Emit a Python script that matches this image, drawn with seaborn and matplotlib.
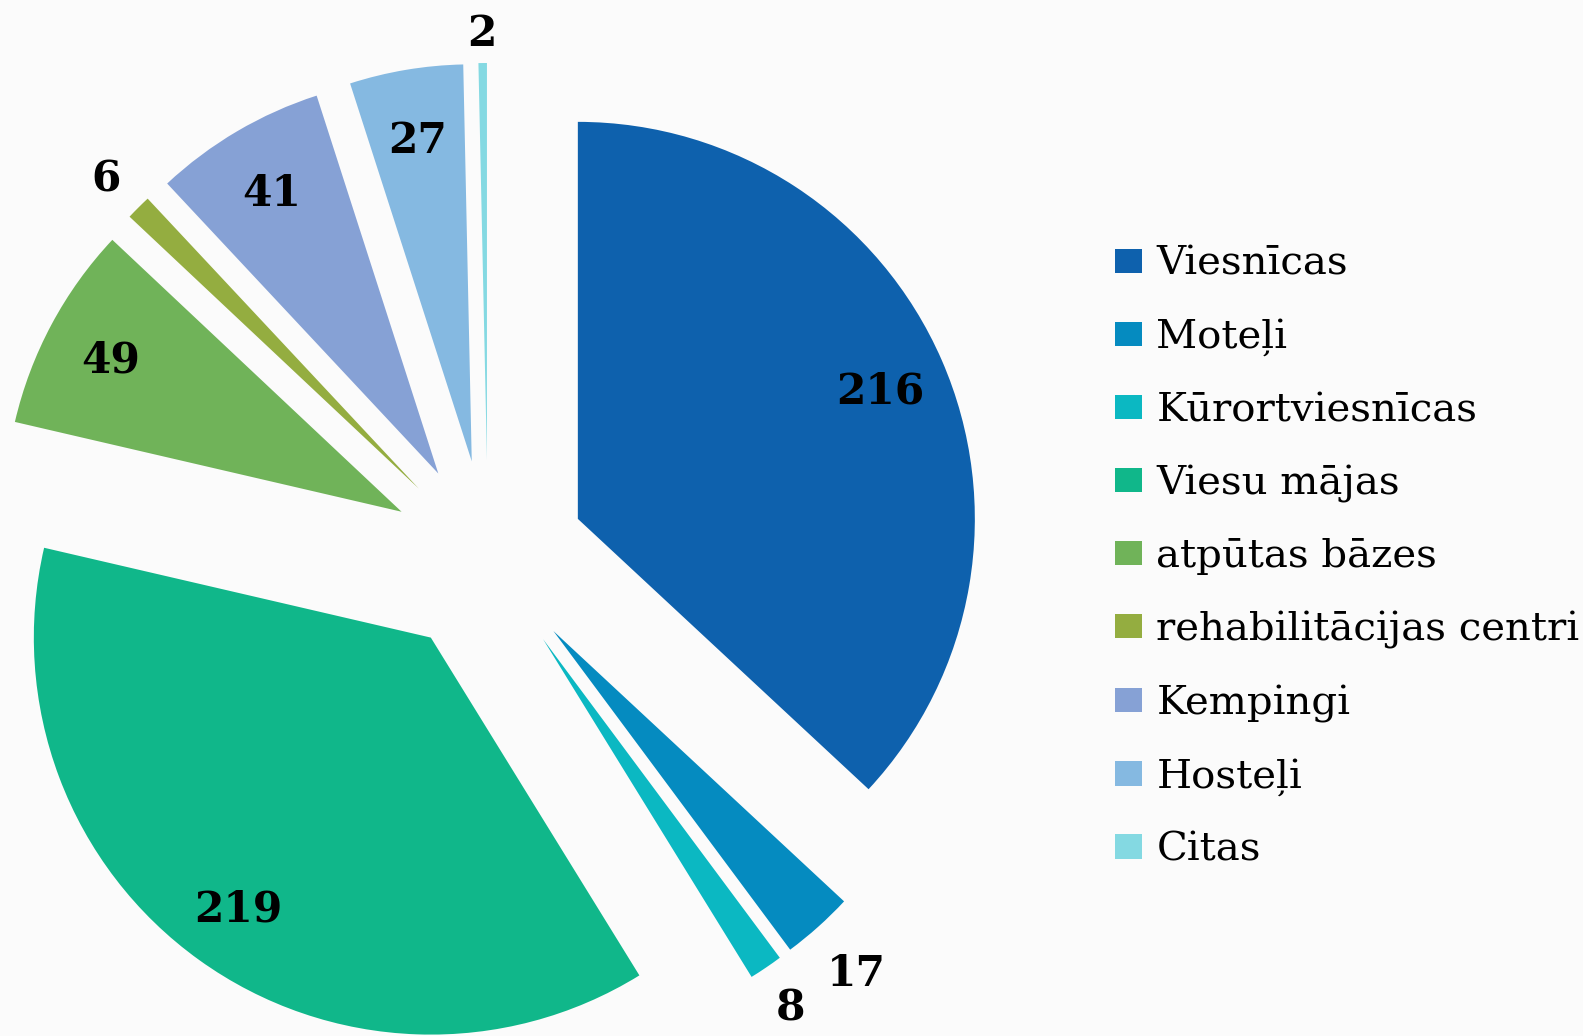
import matplotlib
matplotlib.use("Agg")
import matplotlib.pyplot as plt
import numpy as np
import seaborn as sns

# data ---------------------------------------------------------------
categories = ["Viesnīcas", "Moteļi", "Kūrortviesnīcas", "Viesu mājas", "atpūtas bāzes",
              "rehabilitācijas centri", "Kempingi", "Hosteļi", "Citas"]
values = [216, 17, 8, 219, 49, 6, 41, 27, 2]
colors = ["#0e61ad", "#058bc0", "#0bb8c2", "#10b78a", "#70b359",
          "#94ad40", "#86a1d5", "#85b9e1", "#84d9e2"]

sns.set_theme(style="white")
plt.rcParams['font.family'] = ['DejaVu Serif', 'DejaVu Sans']

fig = plt.figure(figsize=(15.83, 10.36), dpi=100)
fig.patch.set_facecolor('#fbfbfb')
ax = fig.add_axes([0, 0, 1, 1])

R = 397
gap = 98  # explode is in data units here
wedges, _ = ax.pie(values, colors=sns.color_palette(colors), startangle=90,
                   counterclock=False, explode=[gap] * len(values),
                   radius=R, center=(488, 478), frame=True,
                   wedgeprops=dict(linewidth=0))
ax.set_xlim(0, 1583)
ax.set_ylim(0, 1036)
ax.set_aspect('equal')
ax.axis('off')

# value labels: inside for big slices, outside (excel style) for small ones
for w, v in zip(wedges, values):
    th = np.deg2rad((w.theta1 + w.theta2) / 2)
    if v >= 20:
        dist = 0.83
    else:
        dist = 1.085 + 0.045 * len(str(v)) * abs(np.cos(th))
    cx, cy = w.center
    ax.text(cx + dist * R * np.cos(th), cy + dist * R * np.sin(th), str(v),
            ha='center', va='center_baseline', fontsize=30.5,
            fontweight='bold', color='black')

leg = ax.legend(wedges, categories, loc='center left', bbox_to_anchor=(0.7043, 0.462),
                bbox_transform=fig.transFigure, frameon=False, fontsize=29,
                handlelength=0.67, handleheight=0.55, handletextpad=0.36,
                labelspacing=0.885, borderpad=0, borderaxespad=0)
for t in leg.get_texts():
    t.set_color('black')

fig.savefig("out.png", dpi=100, facecolor=fig.get_facecolor())
